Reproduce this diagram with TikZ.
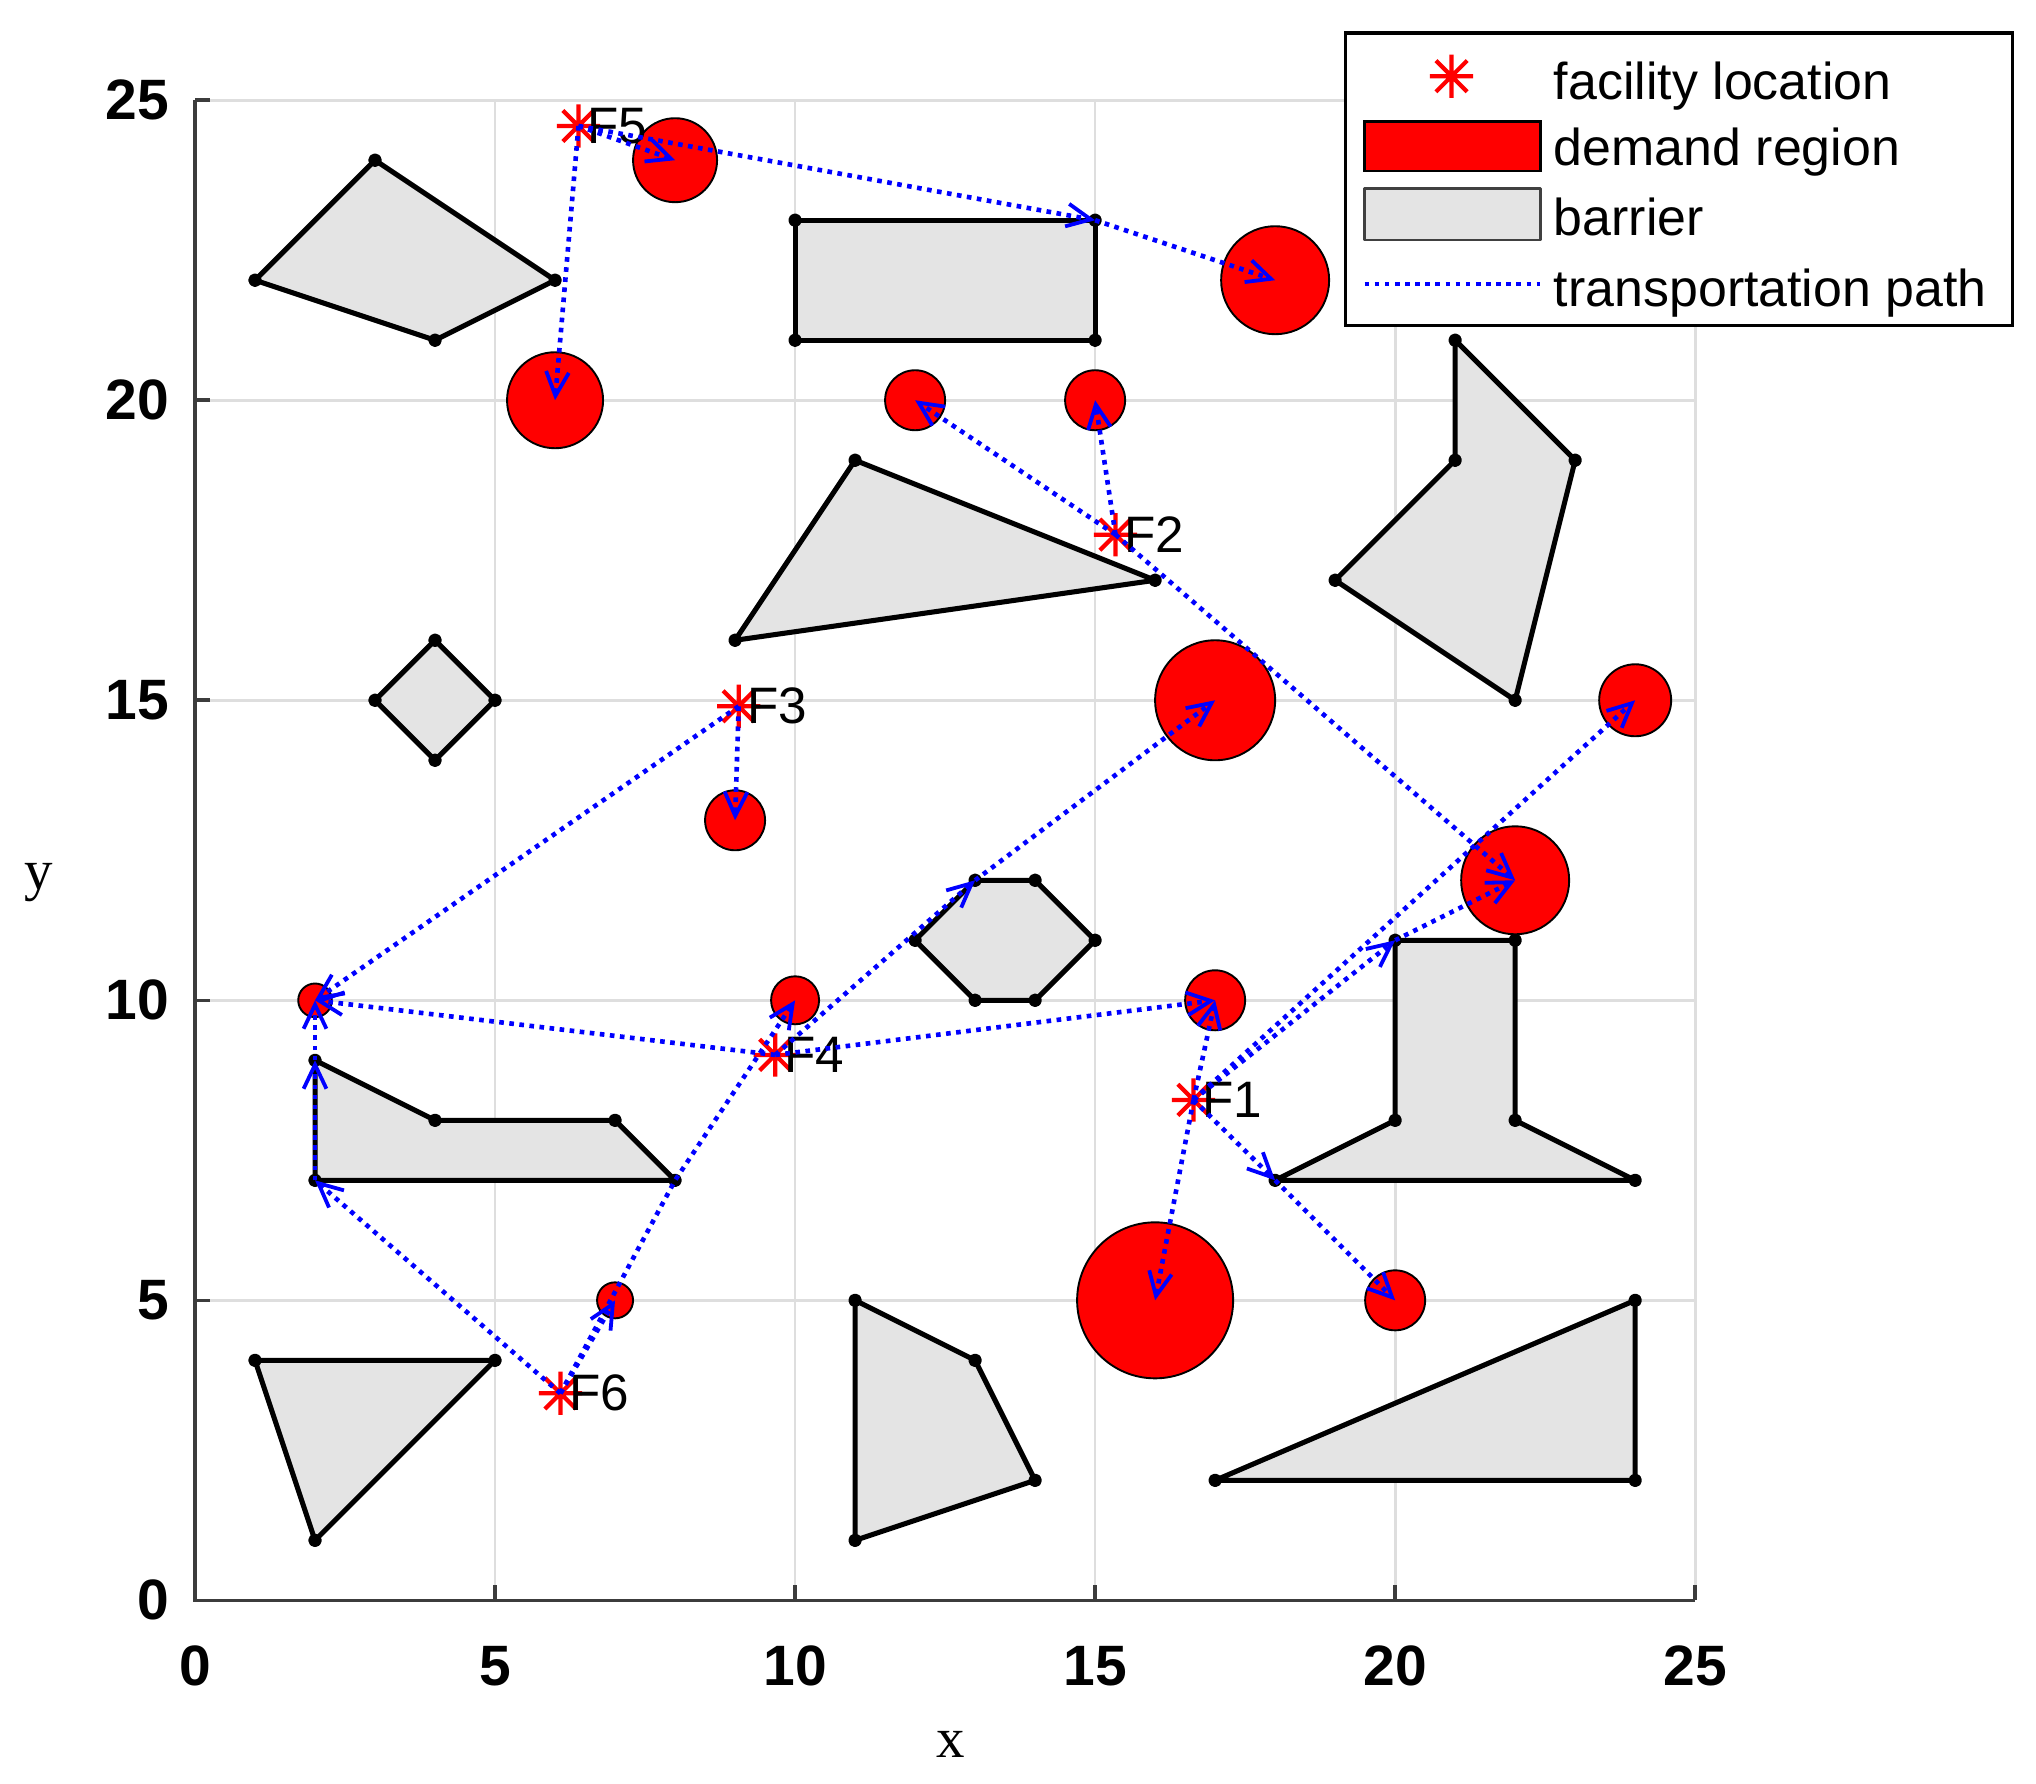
\documentclass[tikz,border=0pt]{standalone}
\usepackage{fontspec}
\setmainfont{Liberation Sans}
\newfontfamily\axfont{Liberation Serif}
\usetikzlibrary{arrows.meta}
\definecolor{barriergray}{RGB}{228,228,228}
\definecolor{gridgray}{RGB}{222,222,222}
\definecolor{axisgray}{RGB}{60,60,60}
\tikzset{facstar/.pic={\draw[red, line width=2pt] (-0.36,0) -- (0.36,0) (0,-0.36) -- (0,0.36)
    (-0.26,-0.26) -- (0.26,0.26) (-0.26,0.26) -- (0.26,-0.26);}}

\begin{document}
\begin{tikzpicture}[x=1cm, y=1cm]
\tikzstyle{barrier}=[draw=black, fill=barriergray, line width=2.4pt, line join=round]
\tikzstyle{demand}=[draw=black, fill=red, line width=0.9pt]
\tikzstyle{route}=[draw=blue, line width=2.2pt, dash pattern=on 2.2pt off 2.6pt,
    -{Straight Barb[length=0.4cm, width=0.38cm, line width=1.8pt]}]
\tikzstyle{gridline}=[draw=gridgray, line width=1.3pt]
\tikzstyle{axisline}=[draw=axisgray, line width=1.7pt]
\tikzstyle{flabel}=[anchor=west, inner xsep=0.14cm, inner ysep=0pt, font=\fontsize{24.3}{28}\selectfont]
\tikzstyle{ticklabel}=[inner sep=0pt, font=\fontsize{27}{30}\selectfont\bfseries]
\tikzstyle{legtext}=[anchor=base west, inner sep=0pt, font=\fontsize{24.6}{28}\selectfont]
\useasboundingbox (-3.25,-3.05) rectangle (30.68,26.67);

\foreach \t in {5,10,...,25} {
  \draw[gridline] (\t,0) -- (\t,25);
  \draw[gridline] (0,\t) -- (25,\t);
}
\draw[axisline] (0,25) -- (0,0) -- (25,0);
\foreach \t in {5,10,...,25} {
  \draw[axisline] (\t,0) -- (\t,0.25);
  \draw[axisline] (0,\t) -- (0.25,\t);
}
\foreach \t in {0,5,...,25} {
  \node[ticklabel] (xt\t) at (\t,-1.1) {\t};
  \node[ticklabel, anchor=east] (yt\t) at (-0.43,\t) {\t};
}
\node[anchor=base, inner sep=0pt, font=\fontsize{27}{30}\selectfont\axfont] (xlab) at (12.6,-2.62) {x};
\node[anchor=base, inner sep=0pt, font=\fontsize{27}{30}\selectfont\axfont] (ylab) at (-2.6,11.85) {y};

% barriers
\draw[barrier] plot[mark=*, mark size=2pt, mark options={fill=black}] coordinates {(1,22) (3,24) (6,22) (4,21)} -- cycle;
\draw[barrier] plot[mark=*, mark size=2pt, mark options={fill=black}] coordinates {(10,21) (10,23) (15,23) (15,21)} -- cycle;
\draw[barrier] plot[mark=*, mark size=2pt, mark options={fill=black}] coordinates {(11,19) (16,17) (9,16)} -- cycle;
\draw[barrier] plot[mark=*, mark size=2pt, mark options={fill=black}] coordinates {(21,21) (23,19) (22,15) (19,17) (21,19)} -- cycle;
\draw[barrier] plot[mark=*, mark size=2pt, mark options={fill=black}] coordinates {(4,16) (5,15) (4,14) (3,15)} -- cycle;
\draw[barrier] plot[mark=*, mark size=2pt, mark options={fill=black}] coordinates {(12,11) (13,12) (14,12) (15,11) (14,10) (13,10)} -- cycle;
\draw[barrier] plot[mark=*, mark size=2pt, mark options={fill=black}] coordinates {(20,11) (22,11) (22,8) (24,7) (18,7) (20,8)} -- cycle;
\draw[barrier] plot[mark=*, mark size=2pt, mark options={fill=black}] coordinates {(2,9) (4,8) (7,8) (8,7) (2,7)} -- cycle;
\draw[barrier] plot[mark=*, mark size=2pt, mark options={fill=black}] coordinates {(1,4) (5,4) (2,1)} -- cycle;
\draw[barrier] plot[mark=*, mark size=2pt, mark options={fill=black}] coordinates {(11,5) (13,4) (14,2) (11,1)} -- cycle;
\draw[barrier] plot[mark=*, mark size=2pt, mark options={fill=black}] coordinates {(17,2) (24,5) (24,2)} -- cycle;
\coordinate (rectNE) at (15,23);
\coordinate (hexN) at (13,12);
\coordinate (legSW) at (2,7);
\coordinate (legNW) at (2,9);
\coordinate (legSE) at (8,7);
\coordinate (tSW) at (18,7);
\coordinate (tNW) at (20,11);

% demand regions
\foreach \name/\x/\y/\r in {dem1/8/24/0.7, dem2/6/20/0.8, dem3/18/22/0.9,
    dem4/12/20/0.5, dem5/15/20/0.5, dem6/17/15/1.0, dem7/24/15/0.6,
    dem8/9/13/0.5, dem9/22/12/0.9, dem10/2/10/0.28, dem11/10/10/0.4,
    dem12/17/10/0.5, dem13/16/5/1.3, dem14/20/5/0.5, dem15/7/5/0.3} {
  \coordinate (\name) at (\x,\y);
  \draw[demand] (\x,\y) circle (\r);
}

% facilities
\foreach \name/\x/\y in {F1/16.64/8.34, F2/15.34/17.76, F3/9.06/14.9,
    F4/9.67/9.09, F5/6.39/24.57, F6/6.09/3.45} {
  \coordinate (\name) at (\x,\y);
  \pic at (\x,\y) {facstar};
  \node[flabel] (\name lab) at (\x,\y) {\name};
}

% transportation paths
\foreach \a/\b in {F5/dem1, F5/dem2, F5/rectNE, rectNE/dem3,
    F2/dem4, F2/dem5, F2/dem9,
    F3/dem10, F3/dem8,
    F4/dem10, F4/hexN, hexN/dem6, F4/dem12,
    F6/legSW, legSW/legNW, legNW/dem10, F6/dem15,
    F1/dem12, F1/tNW, tNW/dem9, F1/dem7, F1/dem13, F1/tSW, tSW/dem14}
  \draw[route] (\a) -- (\b);
\draw[route] (F6) -- (legSE) -- (dem11);

% legend
\draw[fill=white, draw=black, line width=1.6pt] (19.17,21.25) rectangle (30.29,26.12);
\pic at (20.94,25.40) {facstar};
\draw[demand, line width=1.4pt] (19.49,23.82) rectangle (22.42,24.65);
\draw[barrier, line width=1.4pt, draw=black!75] (19.49,22.67) rectangle (22.42,23.53);
\draw[draw=blue, line width=2.2pt, dash pattern=on 2.2pt off 2.6pt] (19.49,21.94) -- (22.42,21.94);
\node[legtext] (legfac) at (22.64,25.02) {facility location};
\node[legtext] (legdem) at (22.64,23.91) {demand region};
\node[legtext] (legbar) at (22.64,22.74) {barrier};
\node[legtext] (legpath) at (22.64,21.57) {transportation path};
\end{tikzpicture}
\end{document}
